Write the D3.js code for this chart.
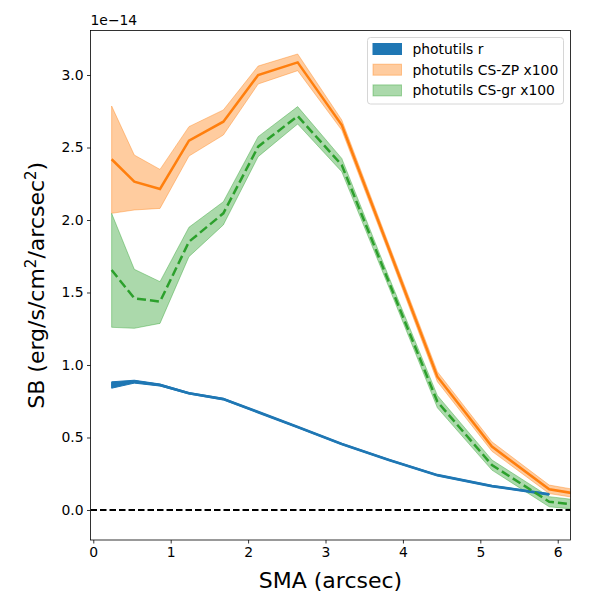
<!DOCTYPE html>
<html>
<head>
<meta charset="utf-8">
<script src="https://cdn.jsdelivr.net/npm/d3@7"></script>
<style>
  body { margin: 0; background: #fff; }
  text { font-family: "DejaVu Sans", sans-serif; }
</style>
</head>
<body>
<div id="chart"></div>
<script>
// semi-major axis (arcsec)
const sma = [0.237, 0.53, 0.862, 1.236, 1.68, 2.13, 2.64, 3.21, 3.82, 4.445, 5.15, 5.89, 6.71];

// photutils r (x1e-14), one point fewer
const rMid = [0.862, 0.885, 0.862, 0.805, 0.765, 0.675, 0.572, 0.455, 0.345, 0.24, 0.165, 0.108];
const rErr = [0.022, 0.01, 0.007, 0.005, 0.005, 0.004, 0.004, 0.004, 0.004, 0.004, 0.004, 0.004];

// photutils CS-ZP x100
const zpMid = [2.419, 2.264, 2.214, 2.547, 2.678, 3.0, 3.087, 2.655, 1.80, 0.919, 0.437, 0.143, 0.07];
const zpLo = [2.046, 2.069, 2.08, 2.441, 2.586, 2.938, 3.03, 2.62, 1.77, 0.885, 0.405, 0.113, 0.045];
const zpHi = [2.786, 2.448, 2.349, 2.644, 2.759, 3.062, 3.145, 2.69, 1.83, 0.954, 0.47, 0.172, 0.095];

// photutils CS-gr x100
const grMid = [1.655, 1.46, 1.437, 1.85, 2.046, 2.506, 2.717, 2.379, 1.57, 0.747, 0.31, 0.057, 0.009];
const grLo = [1.26, 1.253, 1.287, 1.747, 1.966, 2.437, 2.662, 2.333, 1.535, 0.705, 0.275, 0.022, -0.02];
const grHi = [2.046, 1.66, 1.575, 1.95, 2.126, 2.575, 2.782, 2.425, 1.605, 0.79, 0.345, 0.092, 0.04];

const xTicks = [0, 1, 2, 3, 4, 5, 6];
const yTicks = [0.0, 0.5, 1.0, 1.5, 2.0, 2.5, 3.0];
const legendLabels = ["photutils r", "photutils CS-ZP x100", "photutils CS-gr x100"];

const width = 600, height = 600;
const plot = {left: 90.5, right: 570.5, top: 30.5, bottom: 540};

const svg = d3.select("#chart").append("svg")
    .attr("width", width)
    .attr("height", height);

let x = d3.scaleLinear().domain([-0.036, 6.165]).range([plot.left, plot.right]);
let y = d3.scaleLinear().domain([-0.207, 3.307]).range([plot.bottom, plot.top]);

svg.append("clipPath").attr("id", "clip")
    .append("rect")
    .attr("x", plot.left).attr("y", plot.top)
    .attr("width", plot.right - plot.left)
    .attr("height", plot.bottom - plot.top);

let g = svg.append("g").attr("clip-path", "url(#clip)");

let area = d3.area()
    .x(d => x(d.x))
    .y0(d => y(d.lo))
    .y1(d => y(d.hi));
let line = d3.line()
    .x(d => x(d.x))
    .y(d => y(d.y));

const rBand = rMid.map((v, i) => ({x: sma[i], lo: v - rErr[i], hi: v + rErr[i]}));
const zpBand = sma.map((s, i) => ({x: s, lo: zpLo[i], hi: zpHi[i]}));
const grBand = sma.map((s, i) => ({x: s, lo: grLo[i], hi: grHi[i]}));

// bands
g.append("path").datum(rBand).attr("d", area)
    .attr("fill", "#1f77b4").attr("stroke", "#1f77b4").attr("stroke-width", 1);
g.append("path").datum(zpBand).attr("d", area)
    .attr("fill", "#ff7f0e").attr("fill-opacity", 0.4)
    .attr("stroke", "#ff7f0e").attr("stroke-opacity", 0.4).attr("stroke-width", 1);
g.append("path").datum(grBand).attr("d", area)
    .attr("fill", "#2ca02c").attr("fill-opacity", 0.4)
    .attr("stroke", "#2ca02c").attr("stroke-opacity", 0.4).attr("stroke-width", 1);

// lines
g.append("path").datum(rMid.map((v, i) => ({x: sma[i], y: v}))).attr("d", line)
    .attr("fill", "none").attr("stroke", "#1f77b4").attr("stroke-width", 2.7);
g.append("path").datum(zpMid.map((v, i) => ({x: sma[i], y: v}))).attr("d", line)
    .attr("fill", "none").attr("stroke", "#ff7f0e").attr("stroke-width", 2.5);
g.append("path").datum(grMid.map((v, i) => ({x: sma[i], y: v}))).attr("d", line)
    .attr("fill", "none").attr("stroke", "#2ca02c").attr("stroke-width", 2.5)
    .attr("stroke-dasharray", "9,4");

// zero line
g.append("line")
    .attr("x1", plot.left).attr("x2", plot.right)
    .attr("y1", y(0)).attr("y2", y(0))
    .attr("stroke", "#000").attr("stroke-width", 1.8)
    .attr("stroke-dasharray", "6.5,3");

// axes
let xAxis = svg.append("g")
    .attr("transform", `translate(0,${plot.bottom})`)
    .call(d3.axisBottom(x).tickValues(xTicks).tickSize(3.5).tickPadding(3.5).tickFormat(d3.format("d")));
let yAxis = svg.append("g")
    .attr("transform", `translate(${plot.left},0)`)
    .call(d3.axisLeft(y).tickValues(yTicks).tickSize(3.5).tickPadding(3.5).tickFormat(d3.format(".1f")));
[xAxis, yAxis].forEach(a => {
    a.select(".domain").remove();
    a.selectAll("line").attr("stroke", "#000").attr("stroke-width", 0.8);
    a.selectAll("text").attr("font-size", 13.9).attr("fill", "#000")
        .attr("font-family", "DejaVu Sans, sans-serif");
});

// frame
svg.append("rect")
    .attr("x", plot.left).attr("y", plot.top)
    .attr("width", plot.right - plot.left)
    .attr("height", plot.bottom - plot.top)
    .attr("fill", "none").attr("stroke", "#000").attr("stroke-width", 0.8);

// offset text
svg.append("text")
    .attr("x", plot.left).attr("y", 25)
    .attr("font-size", 13.9)
    .text("1e\u221214");

// axis labels
svg.append("text")
    .attr("x", (plot.left + plot.right) / 2).attr("y", 588)
    .attr("text-anchor", "middle")
    .attr("font-size", 22)
    .text("SMA (arcsec)");

let yl = svg.append("text")
    .attr("transform", `translate(44,${(plot.top + plot.bottom) / 2}) rotate(-90)`)
    .attr("text-anchor", "middle")
    .attr("font-size", 22);
yl.append("tspan").text("SB (erg/s/cm");
yl.append("tspan").attr("font-size", 15).attr("dy", -8).text("2");
yl.append("tspan").attr("dy", 8).text("/arcsec");
yl.append("tspan").attr("font-size", 15).attr("dy", -8).text("2");
yl.append("tspan").attr("dy", 8).text(")");

// legend
let legend = svg.append("g");
legend.append("rect")
    .attr("x", 367.5).attr("y", 37.5)
    .attr("width", 196).attr("height", 66.5)
    .attr("rx", 3)
    .attr("fill", "#fff").attr("fill-opacity", 0.8)
    .attr("stroke", "#d6d6d6").attr("stroke-width", 1);
const legendColors = [["#1f77b4", 1], ["#ff7f0e", 0.4], ["#2ca02c", 0.4]];
legendLabels.forEach((lab, i) => {
    let cy = 49 + i * 20.7;
    legend.append("rect")
        .attr("x", 373).attr("y", cy - 5.5)
        .attr("width", 28.5).attr("height", 11)
        .attr("fill", legendColors[i][0]).attr("fill-opacity", legendColors[i][1])
        .attr("stroke", legendColors[i][0]).attr("stroke-opacity", legendColors[i][1]);
    legend.append("text")
        .attr("x", 412.5).attr("y", cy + 5)
        .attr("font-size", 13.9)
        .text(lab);
});
</script>
</body>
</html>
